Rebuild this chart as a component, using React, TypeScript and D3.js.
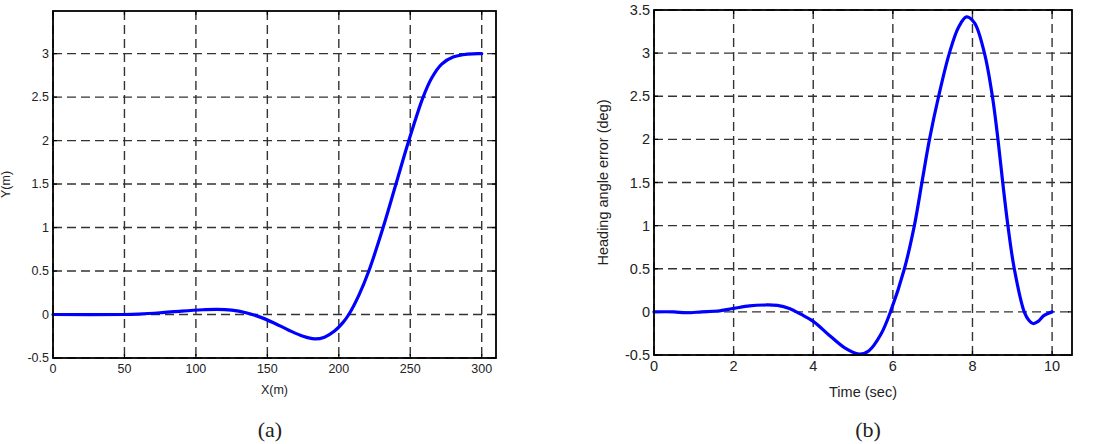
import * as d3 from "d3";

// panel (a): lateral path
const pathX = [0, 50, 60, 75, 90, 105, 115, 125, 135, 145, 155, 165, 175, 183, 190, 197, 203, 207, 214, 221, 231, 240, 249, 259, 265, 272, 280, 290, 300];
const pathY = [0, 0, 0.005, 0.02, 0.04, 0.055, 0.06, 0.05, 0.02, -0.03, -0.1, -0.18, -0.25, -0.28, -0.26, -0.19, -0.09, 0, 0.22, 0.5, 1.0, 1.5, 2.0, 2.5, 2.72, 2.88, 2.96, 2.995, 3.0];
const pathXTicks = [0, 50, 100, 150, 200, 250, 300];
const pathYTicks = [-0.5, 0, 0.5, 1, 1.5, 2, 2.5, 3];

// panel (b): heading angle error over time
const time = [0, 0.5, 0.8, 1.2, 1.6, 2, 2.4, 2.8, 3.1, 3.4, 3.7, 4, 4.4, 4.8, 5.15, 5.4, 5.7, 5.94, 6.29, 6.54, 6.73, 6.92, 7.15, 7.42, 7.65, 7.85, 8.05, 8.3, 8.5, 8.64, 8.76, 8.89, 9.05, 9.3, 9.42, 9.52, 9.65, 9.8, 10];
const headingErr = [0, 0, -0.01, 0, 0.01, 0.04, 0.07, 0.08, 0.075, 0.04, -0.03, -0.11, -0.27, -0.42, -0.49, -0.45, -0.26, 0, 0.5, 1.0, 1.5, 2.0, 2.5, 3.0, 3.3, 3.42, 3.35, 3.0, 2.5, 2.0, 1.5, 1.0, 0.5, 0, -0.1, -0.135, -0.11, -0.04, 0];
const timeTicks = [0, 2, 4, 6, 8, 10];
const errTicks = [-0.5, 0, 0.5, 1, 1.5, 2, 2.5, 3, 3.5];

const SANS = "'Liberation Sans', Arial, sans-serif";

type PanelProps = {
  xs: number[];
  ys: number[];
  left: number;
  right: number;
  top: number;
  bottom: number;
  xDomain: [number, number];
  yDomain: [number, number];
  xTicks: number[];
  yTicks: number[];
  xLabel: string;
  yLabel: string;
  fontSize: number;
  labelSize: number;
  yLabelX: number;
  xLabelY: number;
  caption: string;
  captionX: number;
};

function Panel(p: PanelProps) {
  const x = d3.scaleLinear().domain(p.xDomain).range([p.left, p.right]);
  const y = d3.scaleLinear().domain(p.yDomain).range([p.bottom, p.top]);
  const pts = p.xs.map((v, i) => [v, p.ys[i]] as [number, number]);
  const line = d3
    .line<[number, number]>()
    .x((d) => x(d[0]))
    .y((d) => y(d[1]))
    .curve(d3.curveCatmullRom.alpha(0.5));
  const tl = 4;
  return (
    <g>
      {/* grid */}
      {p.xTicks.map((t) => (
        <line key={"gx" + t} x1={x(t)} x2={x(t)} y1={p.top} y2={p.bottom}
          stroke="#333" strokeWidth={1.4} strokeDasharray="9,5" />
      ))}
      {p.yTicks.map((t) => (
        <line key={"gy" + t} x1={p.left} x2={p.right} y1={y(t)} y2={y(t)}
          stroke="#333" strokeWidth={1.4} strokeDasharray="9,5" />
      ))}
      {/* inward ticks on all sides */}
      {p.xTicks.map((t) => (
        <g key={"tx" + t}>
          <line x1={x(t)} x2={x(t)} y1={p.bottom} y2={p.bottom - tl} stroke="#000" strokeWidth={1.2} />
          <line x1={x(t)} x2={x(t)} y1={p.top} y2={p.top + tl} stroke="#000" strokeWidth={1.2} />
          <text x={x(t)} y={p.bottom + 6} dy="0.71em" textAnchor="middle"
            fontFamily={SANS} fontSize={p.fontSize} fill="#222">{t}</text>
        </g>
      ))}
      {p.yTicks.map((t) => (
        <g key={"ty" + t}>
          <line x1={p.left} x2={p.left + tl} y1={y(t)} y2={y(t)} stroke="#000" strokeWidth={1.2} />
          <line x1={p.right} x2={p.right - tl} y1={y(t)} y2={y(t)} stroke="#000" strokeWidth={1.2} />
          <text x={p.left - 4} y={y(t)} dy="0.35em" textAnchor="end"
            fontFamily={SANS} fontSize={p.fontSize} fill="#222">{t}</text>
        </g>
      ))}
      <path d={line(pts) ?? ""} fill="none" stroke="#0000ff" strokeWidth={3.2}
        strokeLinejoin="round" strokeLinecap="round" />
      <rect x={p.left} y={p.top} width={p.right - p.left} height={p.bottom - p.top}
        fill="none" stroke="#000" strokeWidth={1.8} />
      <text x={(p.left + p.right) / 2} y={p.xLabelY} textAnchor="middle"
        fontFamily={SANS} fontSize={p.labelSize} fill="#222">{p.xLabel}</text>
      <text transform={`translate(${p.yLabelX},${(p.top + p.bottom) / 2}) rotate(-90)`}
        textAnchor="middle" fontFamily={SANS} fontSize={p.labelSize} fill="#222">{p.yLabel}</text>
      <text x={p.captionX} y={437} textAnchor="middle"
        fontFamily="'Liberation Serif', 'DejaVu Serif', serif" fontSize={22} fill="#222">{p.caption}</text>
    </g>
  );
}

export default function App() {
  return (
    <svg width={1110} height={444} style={{ position: "absolute", left: 0, top: 0, background: "#fff" }}>
      <Panel xs={pathX} ys={pathY} left={53} right={496} top={11} bottom={358}
        xDomain={[0, 310]} yDomain={[-0.5, 3.49]} xTicks={pathXTicks} yTicks={pathYTicks}
        xLabel="X(m)" yLabel="Y(m)" fontSize={12.5} labelSize={12.5} yLabelX={10} xLabelY={394}
        caption="(a)" captionX={270} />
      <Panel xs={time} ys={headingErr} left={654} right={1072} top={10} bottom={355}
        xDomain={[0, 10.5]} yDomain={[-0.5, 3.5]} xTicks={timeTicks} yTicks={errTicks}
        xLabel="Time (sec)" yLabel="Heading angle error (deg)" fontSize={14.5} labelSize={14.5}
        yLabelX={608} xLabelY={397} caption="(b)" captionX={868} />
    </svg>
  );
}
